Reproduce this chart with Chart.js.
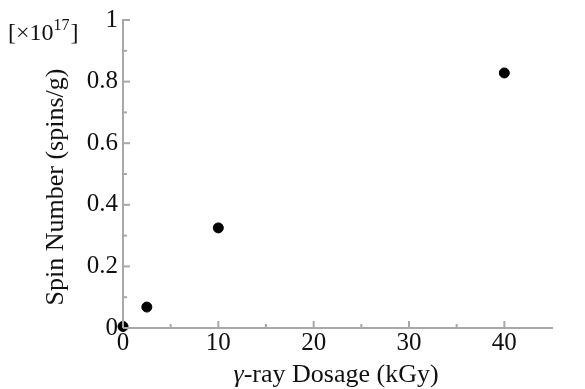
<!DOCTYPE html>
<html>
<head>
<meta charset="utf-8">
<script src="https://cdn.jsdelivr.net/npm/chart.js@4.4.1/dist/chart.umd.min.js"></script>
<style>
  html, body { margin: 0; padding: 0; background: #fff; }
  #wrap { width: 585px; height: 389px; }
</style>
</head>
<body>
<div id="wrap"><canvas id="spinChart" width="585" height="389"></canvas></div>
<script>
// Spin number vs gamma-ray dose
const doses = [0, 2.5, 10, 40];              // kGy
const spins = [0.005, 0.068, 0.325, 0.828];  // x10^17 spins/g
const xTicks = [0, 10, 20, 30, 40];
const yTicks = [0, 0.2, 0.4, 0.6, 0.8, 1];
const xMinor = [5, 15, 25, 35];
const yMinor = [0.1, 0.3, 0.5, 0.7, 0.9];

const serif = '"Liberation Serif", "Times New Roman", serif';
const axisGray = '#a8a8a8';

// inward tick marks, drawn against the chart's own scales
const inwardTicks = {
  id: 'inwardTicks',
  afterDraw(chart) {
    const { ctx, chartArea, scales } = chart;
    ctx.save();
    ctx.strokeStyle = axisGray;
    ctx.lineWidth = 2;
    const mark = (x1, y1, x2, y2) => {
      ctx.beginPath();
      ctx.moveTo(x1, y1);
      ctx.lineTo(x2, y2);
      ctx.stroke();
    };
    xTicks.forEach((v) => {
      const px = scales.x.getPixelForValue(v);
      mark(px, chartArea.bottom, px, chartArea.bottom - 7);
    });
    xMinor.forEach((v) => {
      const px = scales.x.getPixelForValue(v);
      mark(px, chartArea.bottom, px, chartArea.bottom - 4);
    });
    yTicks.forEach((v) => {
      const py = scales.y.getPixelForValue(v);
      mark(chartArea.left, py, chartArea.left + 7, py);
    });
    yMinor.forEach((v) => {
      const py = scales.y.getPixelForValue(v);
      mark(chartArea.left, py, chartArea.left + 4, py);
    });
    ctx.restore();
  },
};

// axis titles (italic gamma on x) and the exponent note
const extraText = {
  id: 'extraText',
  afterDraw(chart) {
    const { ctx } = chart;
    ctx.save();
    ctx.fillStyle = '#111';
    ctx.textBaseline = 'alphabetic';
    ctx.textAlign = 'left';

    const g = '\u03B3';
    const rest = '-ray Dosage (kGy)';
    ctx.font = 'italic 26px ' + serif;
    const gw = ctx.measureText(g).width;
    ctx.font = '26px ' + serif;
    const rw = ctx.measureText(rest).width;
    const x0 = 336 - (gw + rw) / 2;
    const base = 382;
    ctx.font = 'italic 26px ' + serif;
    ctx.fillText(g, x0, base);
    ctx.font = '26px ' + serif;
    ctx.fillText(rest, x0 + gw, base);

    // y title, rotated
    ctx.save();
    ctx.translate(56, 187);
    ctx.rotate(-Math.PI / 2);
    ctx.textAlign = 'center';
    ctx.textBaseline = 'middle';
    ctx.font = '26px ' + serif;
    ctx.fillText('Spin Number (spins/g)', 0, 0);
    ctx.restore();

    // [x10^17]
    let x = 8;
    const yb = 40;
    ctx.font = '24px ' + serif;
    const s1 = '[\u00D710';
    ctx.fillText(s1, x, yb);
    x += ctx.measureText(s1).width;
    ctx.font = '16px ' + serif;
    ctx.fillText('17', x, yb - 10);
    x += ctx.measureText('17').width;
    ctx.font = '24px ' + serif;
    ctx.fillText(']', x + 1, yb);
    ctx.restore();
  },
};

const ctx = document.getElementById('spinChart').getContext('2d');

new Chart(ctx, {
  type: 'scatter',
  data: {
    datasets: [
      {
        data: doses.map((d, i) => ({ x: d, y: spins[i] })),
        backgroundColor: '#000',
        borderColor: '#000',
        pointRadius: 5,
        pointHoverRadius: 5,
        clip: false,
      },
    ],
  },
  options: {
    responsive: false,
    animation: false,
    layout: {
      padding: { left: 0, right: 33, top: 20, bottom: 0 },
    },
    plugins: {
      legend: { display: false },
      tooltip: { enabled: false },
    },
    scales: {
      x: {
        type: 'linear',
        min: 0,
        max: 45,
        afterBuildTicks: (scale) => {
          scale.ticks = xTicks.map((v) => ({ value: v }));
        },
        afterFit: (scale) => {
          scale.height = 61;
        },
        ticks: {
          color: '#111',
          font: { family: serif, size: 25 },
          padding: 0,
          maxRotation: 0,
        },
        grid: { display: false, drawTicks: false },
        border: { display: true, color: axisGray, width: 2 },
      },
      y: {
        type: 'linear',
        min: 0,
        max: 1,
        afterBuildTicks: (scale) => {
          scale.ticks = yTicks.map((v) => ({ value: v }));
        },
        afterFit: (scale) => {
          scale.width = 123;
        },
        ticks: {
          color: '#111',
          font: { family: serif, size: 25 },
          padding: 5,
          callback: (v) => String(v),
        },
        grid: { display: false, drawTicks: false },
        border: { display: true, color: axisGray, width: 2 },
      },
    },
  },
  plugins: [inwardTicks, extraText],
});
</script>
</body>
</html>
